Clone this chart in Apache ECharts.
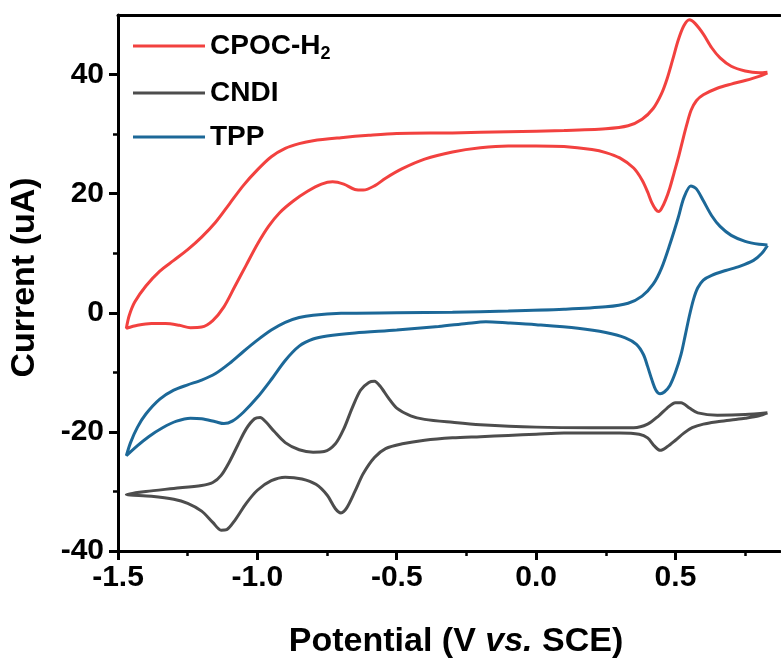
<!DOCTYPE html>
<html>
<head>
<meta charset="utf-8">
<script src="https://cdn.jsdelivr.net/npm/echarts@6/dist/echarts.min.js"></script>
<style>
  html, body { margin: 0; padding: 0; background: #fff; }
  #chart { width: 781px; height: 664px; }
</style>
</head>
<body>
<div id="chart"></div>
<script>
// Axis ticks
const xMajorTicks = [-1.5, -1.0, -0.5, 0.0, 0.5];
const xMinorTicks = [-1.25, -0.75, -0.25, 0.25, 0.75];
const yMajorTicks = [-40, -20, 0, 20, 40];
const yMinorTicks = [-30, -10, 10, 30];

const seriesNames = ['CPOC-H2', 'CNDI', 'TPP'];

// CPOC-H2 voltammogram: cathodic sweep from 0.83 V, then anodic sweep back
const cpocPotential = [
  0.830, 0.800, 0.750, 0.700, 0.650, 0.600, 0.575, 0.556, 0.540, 0.525,
  0.510, 0.495, 0.480, 0.465, 0.450, 0.440, 0.430, 0.415, 0.400, 0.380,
  0.350, 0.300, 0.250, 0.200, 0.100, 0.000, -0.100, -0.200, -0.300, -0.400,
  -0.480, -0.540, -0.580, -0.620, -0.650, -0.690, -0.730, -0.770, -0.820, -0.870,
  -0.920, -0.960, -1.000, -1.040, -1.080, -1.120, -1.160, -1.200, -1.240, -1.280,
  -1.330, -1.380, -1.430, -1.470,
  -1.460, -1.440, -1.400, -1.350, -1.300, -1.250, -1.200, -1.150, -1.100, -1.050,
  -1.000, -0.950, -0.900, -0.850, -0.800, -0.700, -0.600, -0.500, -0.300, -0.100,
  0.100, 0.250, 0.330, 0.380, 0.420, 0.450, 0.470, 0.490, 0.510, 0.530,
  0.550, 0.570, 0.600, 0.630, 0.660, 0.700, 0.750, 0.800, 0.830
];
const cpocCurrent = [
  40.3, 39.7, 39.0, 38.4, 37.7, 36.6, 35.6, 34.0, 31.5, 28.8,
  26.0, 23.5, 21.0, 19.0, 17.5, 17.0, 17.3, 18.5, 20.3, 22.3,
  24.3, 26.0, 26.9, 27.4, 27.9, 28.0, 28.0, 27.7, 27.0, 25.8,
  24.2, 22.6, 21.3, 20.6, 20.7, 21.6, 22.0, 21.6, 20.4, 18.8,
  16.8, 14.5, 11.5, 8.0, 4.5, 1.0, -1.3, -2.4, -2.5, -2.1,
  -1.8, -1.8, -2.1, -2.6,
  -0.5, 1.8, 4.5, 7.0, 8.8, 10.6, 12.7, 15.2, 18.3, 21.4,
  24.0, 26.2, 27.6, 28.4, 28.9, 29.4, 29.8, 30.1, 30.2, 30.4,
  30.6, 30.9, 31.4, 32.5, 34.3, 36.8, 39.3, 42.5, 45.8, 48.2,
  49.2, 48.6, 46.8, 44.5, 42.8, 41.4, 40.6, 40.3, 40.4
];

// CNDI voltammogram
const cndiPotential = [
  0.830, 0.800, 0.750, 0.700, 0.650, 0.600, 0.560, 0.530, 0.500, 0.470,
  0.445, 0.425, 0.400, 0.370, 0.300, 0.200, 0.100, 0.000, -0.100, -0.200,
  -0.300, -0.400, -0.480, -0.540, -0.580, -0.620, -0.650, -0.680, -0.700, -0.720,
  -0.750, -0.790, -0.840, -0.900, -0.950, -1.000, -1.040, -1.080, -1.110, -1.130,
  -1.160, -1.200, -1.250, -1.300, -1.380, -1.470,
  -1.400, -1.300, -1.200, -1.160, -1.130, -1.100, -1.070, -1.040, -1.010, -0.990,
  -0.970, -0.940, -0.900, -0.850, -0.800, -0.760, -0.720, -0.690, -0.660, -0.630,
  -0.600, -0.580, -0.560, -0.530, -0.500, -0.450, -0.400, -0.300, -0.200, 0.000,
  0.200, 0.350, 0.400, 0.440, 0.470, 0.500, 0.520, 0.550, 0.580, 0.650,
  0.750, 0.830
];
const cndiCurrent = [
  -16.8, -17.3, -17.7, -18.0, -18.3, -18.7, -19.3, -20.2, -21.4, -22.5,
  -23.1, -22.4, -21.0, -20.4, -20.2, -20.2, -20.2, -20.4, -20.6, -20.8,
  -21.0, -21.4, -22.0, -22.8, -24.3, -27.0, -30.0, -32.8, -33.6, -32.9,
  -30.6, -28.8, -27.9, -27.6, -28.2, -29.8, -32.0, -34.8, -36.4, -36.5,
  -35.2, -33.3, -32.0, -31.3, -30.8, -30.5,
  -30.0, -29.5, -29.0, -28.5, -27.3, -25.0, -22.2, -19.5, -17.8, -17.6,
  -18.3, -19.9, -21.8, -23.0, -23.4, -23.3, -22.0, -19.5, -16.0, -13.0,
  -11.7, -11.5, -12.3, -14.3, -16.0, -17.3, -17.9, -18.4, -18.8, -19.2,
  -19.3, -19.3, -18.7, -17.3, -16.0, -15.1, -15.1, -16.0, -16.8, -17.2,
  -17.1, -16.8
];

// TPP voltammogram
const tppPotential = [
  0.830, 0.810, 0.780, 0.730, 0.680, 0.630, 0.600, 0.580, 0.565, 0.550,
  0.535, 0.520, 0.500, 0.480, 0.460, 0.445, 0.430, 0.415, 0.400, 0.385,
  0.360, 0.320, 0.250, 0.150, 0.000, -0.100, -0.180, -0.250, -0.350, -0.500,
  -0.650, -0.750, -0.800, -0.850, -0.900, -0.950, -1.000, -1.050, -1.090, -1.120,
  -1.150, -1.200, -1.240, -1.290, -1.340, -1.390, -1.430, -1.470,
  -1.455, -1.430, -1.400, -1.350, -1.300, -1.250, -1.200, -1.150, -1.100, -1.050,
  -1.000, -0.950, -0.900, -0.850, -0.800, -0.700, -0.500, -0.300, -0.100, 0.100,
  0.250, 0.330, 0.380, 0.420, 0.450, 0.480, 0.510, 0.530, 0.555, 0.575,
  0.600, 0.630, 0.660, 0.700, 0.750, 0.800, 0.830
];
const tppCurrent = [
  11.3, 10.0, 8.8, 7.8, 7.1, 6.3, 5.5, 4.2, 2.3, -0.5,
  -3.8, -7.0, -10.0, -12.2, -13.3, -13.6, -13.0, -11.2, -9.0, -7.0,
  -5.3, -4.2, -3.3, -2.6, -2.0, -1.7, -1.5, -1.8, -2.3, -2.9,
  -3.4, -3.9, -4.4, -5.6, -8.0, -11.2, -14.2, -16.7, -18.2, -18.6,
  -18.3, -17.8, -17.7, -18.2, -19.3, -20.8, -22.3, -24.0,
  -21.8, -19.2, -17.0, -14.5, -13.0, -12.1, -11.3, -10.2, -8.5, -6.5,
  -4.6, -2.9, -1.6, -0.8, -0.4, -0.1, 0.0, 0.1, 0.3, 0.6,
  1.0, 1.6, 2.8, 4.8, 7.5, 11.5, 16.0, 19.3, 21.3, 20.8,
  18.8, 16.3, 14.5, 13.0, 12.0, 11.5, 11.4
];

const colors = { 'CPOC-H2': '#F2413F', 'CNDI': '#4D4D4D', 'TPP': '#1C6898' };

const pairs = (xs, ys) => xs.map((x, i) => [x, ys[i]]);
const curves = {
  'CPOC-H2': pairs(cpocPotential, cpocCurrent),
  'CNDI': pairs(cndiPotential, cndiCurrent),
  'TPP': pairs(tppPotential, tppCurrent)
};

const FONT = '"Liberation Sans", Arial, sans-serif';
const X_MIN = -1.5, X_MAX = 0.875, Y_MIN = -40, Y_MAX = 50;

const chart = echarts.init(document.getElementById('chart'), null, { renderer: 'canvas' });

const baseLabel = { fontFamily: FONT, fontWeight: 'bold', color: '#000' };

chart.setOption({
  animation: false,
  backgroundColor: '#fff',
  grid: { left: 118, right: 1, top: 15, bottom: 110, containLabel: false },
  legend: {
    orient: 'vertical',
    left: 128,
    top: 24,
    itemWidth: 72,
    itemHeight: 3,
    itemGap: 16,
    icon: 'rect',
    data: seriesNames,
    formatter: n => n === 'CPOC-H2' ? '{m|CPOC-H}{s|2}' : '{m|' + n + '}',
    textStyle: {
      ...baseLabel,
      fontSize: 28,
      rich: {
        m: { fontFamily: FONT, fontWeight: 'bold', fontSize: 28, lineHeight: 30, color: '#000' },
        s: { fontFamily: FONT, fontWeight: 'bold', fontSize: 18, lineHeight: 18, color: '#000', padding: [16, 0, 0, 0] }
      }
    }
  },
  xAxis: [
    {
      type: 'value', min: X_MIN, max: X_MAX, position: 'bottom',
      axisLine: { show: true, onZero: false, lineStyle: { color: '#000', width: 3 } },
      axisTick: { show: true, inside: false, length: 9, lineStyle: { color: '#000', width: 3 }, customValues: xMajorTicks },
      axisLabel: { ...baseLabel, fontSize: 30, margin: 12, customValues: xMajorTicks, formatter: v => v.toFixed(1) },
      splitLine: { show: false },
      name: '{n|Potential (V }{i|vs.}{n| SCE)}',
      nameLocation: 'middle',
      nameGap: 74,
      nameTextStyle: {
        padding: [0, 0, 0, 14],
        rich: {
          n: { fontFamily: FONT, fontWeight: 'bold', fontSize: 34, color: '#000' },
          i: { fontFamily: FONT, fontWeight: 'bold', fontStyle: 'italic', fontSize: 34, color: '#000' }
        }
      }
    },
    {
      type: 'value', min: X_MIN, max: X_MAX, position: 'bottom',
      axisLine: { show: false, onZero: false },
      axisTick: { show: true, inside: false, length: 5, lineStyle: { color: '#000', width: 2.5 }, customValues: xMinorTicks },
      axisLabel: { show: false },
      splitLine: { show: false }
    },
    {
      type: 'value', min: X_MIN, max: X_MAX, position: 'top',
      axisLine: { show: true, onZero: false, lineStyle: { color: '#000', width: 3 } },
      axisTick: { show: false }, axisLabel: { show: false }, splitLine: { show: false }
    }
  ],
  yAxis: [
    {
      type: 'value', min: Y_MIN, max: Y_MAX, position: 'left',
      axisLine: { show: true, onZero: false, lineStyle: { color: '#000', width: 3 } },
      axisTick: { show: true, inside: false, length: 9, lineStyle: { color: '#000', width: 3 }, customValues: yMajorTicks },
      axisLabel: { ...baseLabel, fontSize: 30, margin: 14, customValues: yMajorTicks },
      splitLine: { show: false },
      name: 'Current (uA)',
      nameLocation: 'middle',
      nameGap: 76,
      nameTextStyle: { ...baseLabel, fontSize: 34, padding: [0, 0, 0, 11] }
    },
    {
      type: 'value', min: Y_MIN, max: Y_MAX, position: 'left',
      axisLine: { show: false, onZero: false },
      axisTick: { show: true, inside: false, length: 5, lineStyle: { color: '#000', width: 2.5 }, customValues: yMinorTicks },
      axisLabel: { show: false },
      splitLine: { show: false }
    }
  ],
  series: seriesNames.map(name => ({
    name,
    type: 'line',
    xAxisIndex: 0,
    yAxisIndex: 0,
    data: curves[name],
    showSymbol: false,
    smooth: 0.3,
    color: colors[name],
    lineStyle: { color: colors[name], width: 3 },
    z: name === 'CNDI' ? 3 : 2
  }))
});
</script>
</body>
</html>
